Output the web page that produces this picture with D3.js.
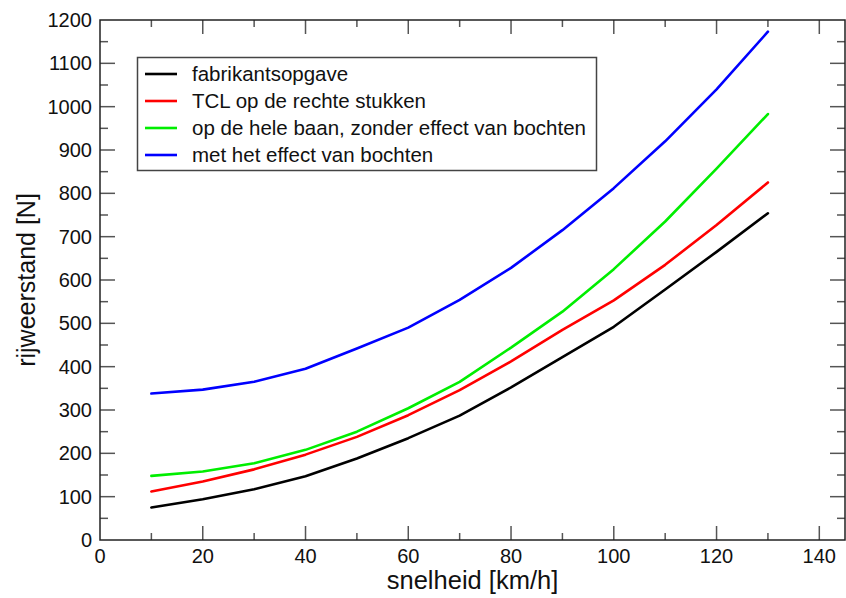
<!DOCTYPE html>
<html><head><meta charset="utf-8">
<script src="https://cdn.jsdelivr.net/npm/d3@7"></script>
<style>body{margin:0;background:#fff}svg{display:block}text{font-family:"Liberation Sans",Arial,sans-serif}</style>
</head><body>
<svg id="c" width="846" height="598"></svg>
<script>
const speeds = [10,20,30,40,50,60,70,80,90,100,110,120,130];
const fabrikant = [75,94,117,147,188,235,287,352,422,492,578,665,754];
const tclRecht = [112,135,163,197,238,288,346,412,485,553,635,727,825];
const heleBaan = [148,158,177,208,250,304,365,444,527,625,735,857,983];
const metBochten = [338,347,365,395,442,490,554,628,715,812,920,1040,1173];
const seriesNames = ["fabrikantsopgave","TCL op de rechte stukken","op de hele baan, zonder effect van bochten","met het effect van bochten"];
const seriesColors = ["#000000","#ff0000","#00ee00","#0000ff"];
const xTicks = [0,20,40,60,80,100,120,140];
const yTicks = [0,100,200,300,400,500,600,700,800,900,1000,1100,1200];

const svg = d3.select("#c");
const L=100,R=845,T=20,B=540;
const x = d3.scaleLinear().domain([0,145]).range([L,R]);
const y = d3.scaleLinear().domain([0,1200]).range([B,T]);
const tickCol="#555";

const g = svg.append("g");
const xMinor = d3.range(10,145,20), yMinor = d3.range(50,1200,100);
function tick(x1,y1,x2,y2){g.append("line").attr("x1",x1).attr("x2",x2).attr("y1",y1).attr("y2",y2).attr("stroke",tickCol).attr("stroke-width",1.5);}
xTicks.forEach(v=>{ if(v===0) return; tick(x(v),B,x(v),B-14); tick(x(v),T,x(v),T+14);});
xMinor.forEach(v=>{ tick(x(v),B,x(v),B-7); tick(x(v),T,x(v),T+7);});
yTicks.forEach(v=>{ if(v===0||v===1200) return; tick(L,y(v),L+15,y(v)); tick(R,y(v),R-15,y(v));});
yMinor.forEach(v=>{ tick(L,y(v),L+8,y(v)); tick(R,y(v),R-8,y(v));});

svg.append("rect").attr("x",L).attr("y",T).attr("width",R-L).attr("height",B-T).attr("fill","none").attr("stroke","#222").attr("stroke-width",1.5);

svg.append("g").selectAll("text").data(xTicks).join("text")
  .attr("x",d=>x(d)).attr("y",563).attr("text-anchor","middle").attr("font-size",20).attr("fill","#111").text(d=>d);
svg.append("g").selectAll("text").data(yTicks).join("text")
  .attr("x",92).attr("y",d=>y(d)+7).attr("text-anchor","end").attr("font-size",20).attr("fill","#111").text(d=>d);

svg.append("text").attr("x",x(72.5)).attr("y",589).attr("text-anchor","middle").attr("font-size",25.5).attr("fill","#111").text("snelheid [km/h]");
svg.append("text").attr("transform",`translate(35,${y(600)}) rotate(-90)`).attr("text-anchor","middle").attr("font-size",25).attr("fill","#111").text("rijweerstand [N]");

const all=[fabrikant,tclRecht,heleBaan,metBochten];
const line=d3.line().x((d,i)=>x(speeds[i])).y(d=>y(d)).curve(d3.curveLinear);
all.forEach((s,i)=>{
  svg.append("path").datum(s).attr("d",line).attr("fill","none").attr("stroke",seriesColors[i]).attr("stroke-width",2.6).attr("stroke-linejoin","round").attr("stroke-linecap","round");
});

const lg=svg.append("g");
lg.append("rect").attr("x",137.5).attr("y",57.5).attr("width",459).attr("height",113).attr("fill","#fff").attr("stroke","#444").attr("stroke-width",1.5);
seriesNames.forEach((n,i)=>{
  const yy=74+i*27;
  lg.append("line").attr("x1",145).attr("x2",177).attr("y1",yy).attr("y2",yy).attr("stroke",seriesColors[i]).attr("stroke-width",2.6);
  lg.append("text").attr("x",192).attr("y",yy+7).attr("font-size",20.5).attr("fill","#111").text(n);
});
</script>
</body></html>
